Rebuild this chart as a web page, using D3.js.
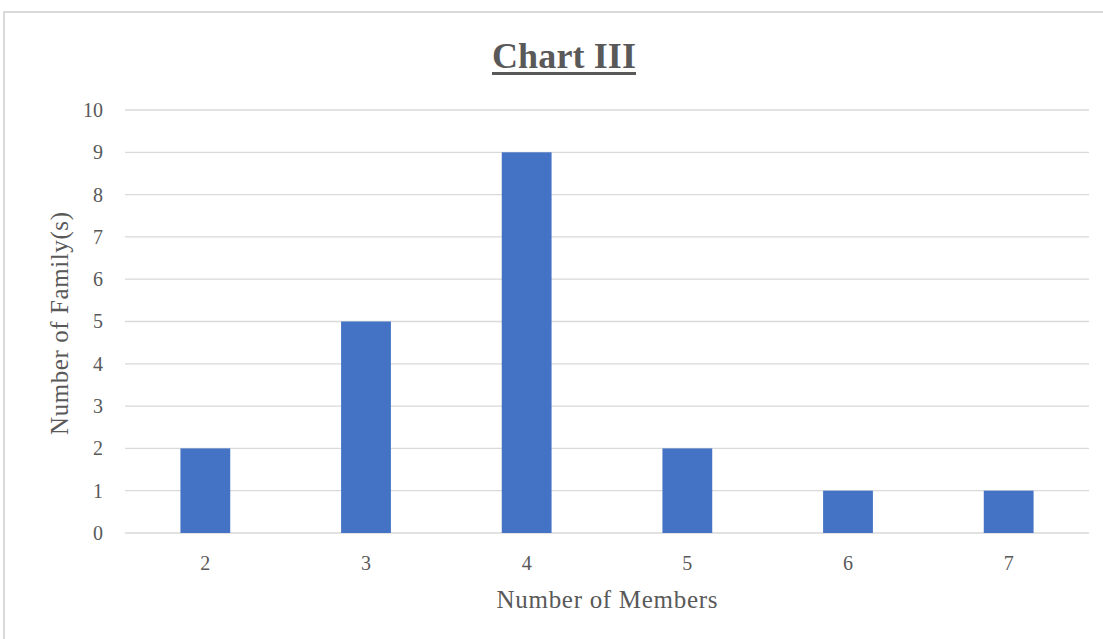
<!DOCTYPE html>
<html>
<head>
<meta charset="utf-8">
<script src="https://cdn.jsdelivr.net/npm/d3@7"></script>
<style>
  html, body { margin: 0; padding: 0; background: #fff; }
  svg { display: block; }
  text { font-family: "Liberation Serif", "Times New Roman", serif; fill: #595959; }
</style>
</head>
<body>
<div id="chart"></div>
<script>
// Family size distribution
const members = ["2", "3", "4", "5", "6", "7"];
const families = [2, 5, 9, 2, 1, 1];
const yTicks = [0, 1, 2, 3, 4, 5, 6, 7, 8, 9, 10];

const W = 1103, H = 639;
const margin = { left: 125, right: 14, top: 110, bottom: 106 };

const svg = d3.select("#chart").append("svg")
  .attr("width", W).attr("height", H);

// chart area frame
svg.append("rect")
  .attr("x", 4).attr("y", 12)
  .attr("width", W + 10).attr("height", H + 10)
  .attr("fill", "#fff")
  .attr("stroke", "#d9d9d9").attr("stroke-width", 2);

const x = d3.scaleBand()
  .domain(members)
  .range([margin.left, W - margin.right])
  .paddingInner(0.69).paddingOuter(0.345);

const y = d3.scaleLinear()
  .domain([0, 10])
  .range([H - margin.bottom, margin.top]);

// gridlines
svg.append("g")
  .selectAll("line")
  .data(yTicks)
  .join("line")
  .attr("x1", margin.left).attr("x2", W - margin.right)
  .attr("y1", d => y(d)).attr("y2", d => y(d))
  .attr("stroke", "#d9d9d9").attr("stroke-width", 1.3);

// y axis labels
const yAxis = d3.axisLeft(y).tickValues(yTicks).tickSize(0).tickPadding(0);
const gy = svg.append("g")
  .attr("transform", `translate(${margin.left - 22},0)`)
  .call(yAxis);
gy.select(".domain").remove();
gy.selectAll("text")
  .attr("font-size", 20)
  .attr("font-family", "Liberation Serif, serif")
  .attr("fill", "#595959");

// bars
svg.append("g")
  .selectAll("rect")
  .data(members.map((m, i) => ({ m, v: families[i] })))
  .join("rect")
  .attr("x", d => x(d.m))
  .attr("width", x.bandwidth())
  .attr("y", d => y(d.v))
  .attr("height", d => y(0) - y(d.v))
  .attr("fill", "#4472c4");

// x axis labels
const xAxis = d3.axisBottom(x).tickSize(0).tickPadding(0);
const gx = svg.append("g")
  .attr("transform", `translate(0,${y(0) + 23})`)
  .call(xAxis);
gx.select(".domain").remove();
gx.selectAll("text")
  .attr("font-size", 20)
  .attr("font-family", "Liberation Serif, serif")
  .attr("fill", "#595959");

// title
const title = svg.append("text")
  .attr("x", 564)
  .attr("y", 68)
  .attr("text-anchor", "middle")
  .attr("font-size", 36)
  .attr("font-weight", "bold")
  .attr("textLength", 144)
  .text("Chart III");
const tb = title.node().getBBox();
svg.append("rect")
  .attr("x", 492).attr("y", 72)
  .attr("width", 144).attr("height", 3)
  .attr("fill", "#595959");

// axis titles
svg.append("text")
  .attr("x", 607).attr("y", 608)
  .attr("text-anchor", "middle")
  .attr("font-size", 25)
  .attr("textLength", 221)
  .text("Number of Members");

svg.append("text")
  .attr("transform", `translate(68,${(212 + 435) / 2}) rotate(-90)`)
  .attr("text-anchor", "middle")
  .attr("font-size", 25)
  .attr("textLength", 223)
  .text("Number of Family(s)");
</script>
</body>
</html>
